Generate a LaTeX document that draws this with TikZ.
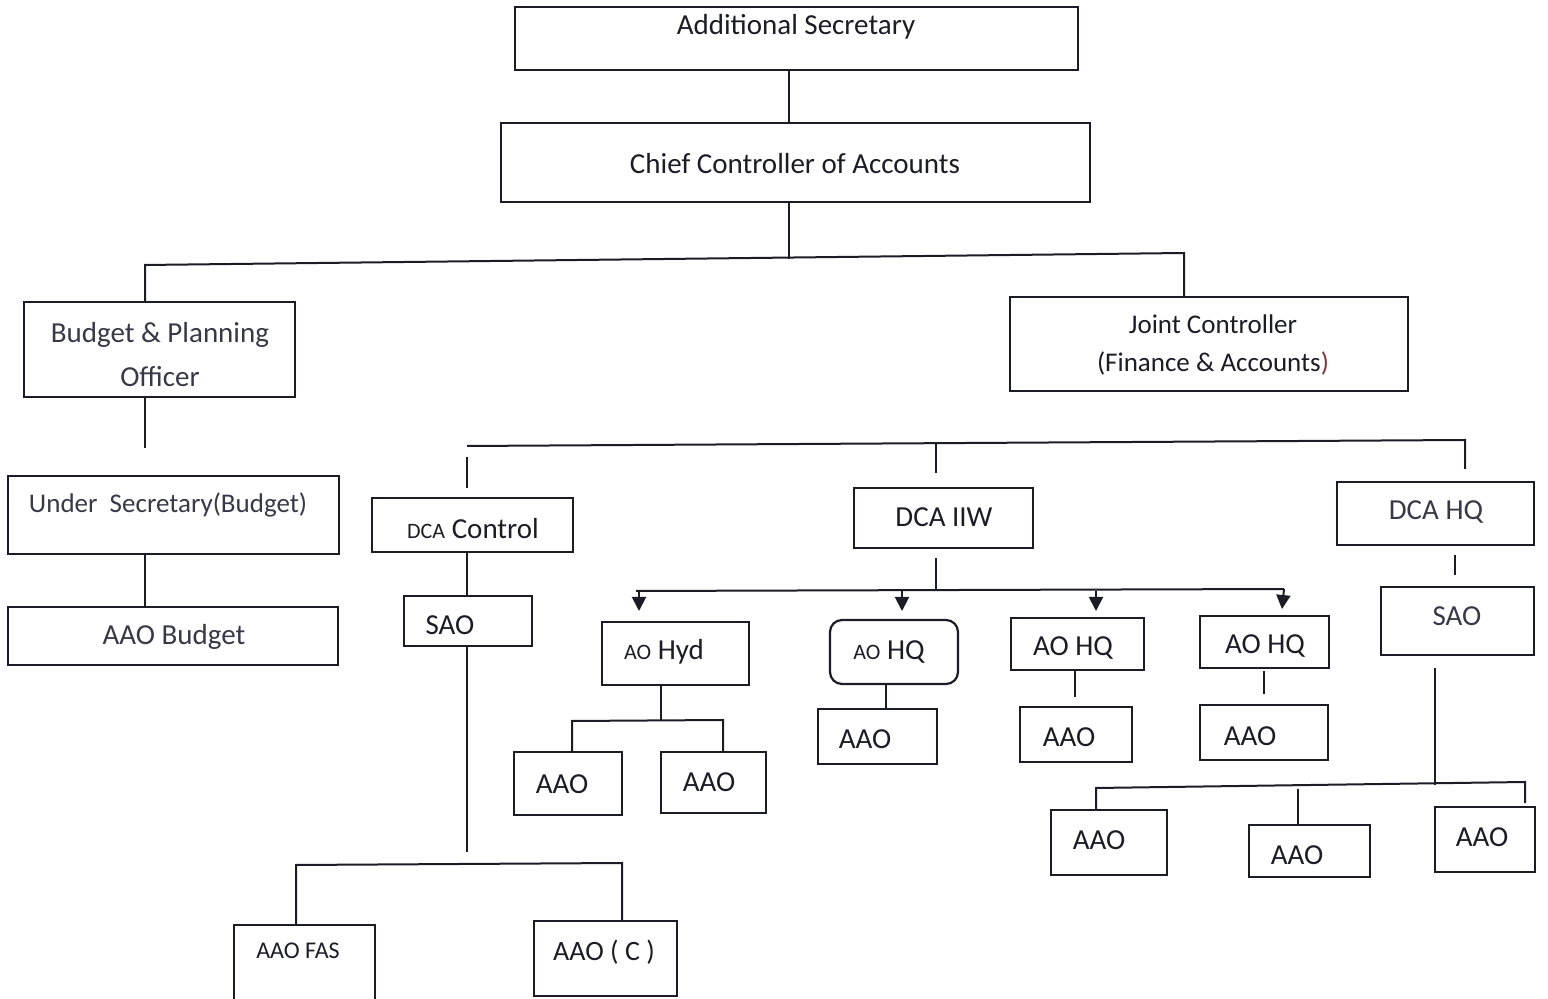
\documentclass[tikz,border=0pt]{standalone}
\usepackage{fontspec}
\setmainfont{Carlito}
\usetikzlibrary{fit,arrows.meta,calc}
\definecolor{ink}{HTML}{1C1C26}
\definecolor{grayink}{HTML}{383846}
\definecolor{redink}{HTML}{7A3A3A}
\begin{document}
\begin{tikzpicture}[x=0.5pt,y=-0.5pt,
  box/.style={draw=ink, line width=1.1pt, inner sep=0pt},
  rbox/.style={box, rounded corners=6pt},
  txt/.style={text=ink, inner sep=0pt, font=\fontsize{14.5}{17}\selectfont},
  gtxt/.style={txt, text=grayink},
  stxt/.style={txt, font=\fontsize{13.5}{16}\selectfont},
  ln/.style={draw=ink, line width=1pt},
  arr/.style={ln, -{Triangle[width=7pt,length=7pt]}}]
\useasboundingbox (0,0) rectangle (1548,999);
% ---- boxes ----
\node[box, fit={(515,7) (1078,70)}] (as) {};
\node[box, fit={(501,123) (1090,202)}] (cca) {};
\node[box, fit={(24,302) (295,397)}] (bpo) {};
\node[box, fit={(8,476) (339,554)}] (us) {};
\node[box, fit={(8,607) (338,665)}] (aaob) {};
\node[box, fit={(1010,297) (1408,391)}] (jc) {};
\node[box, fit={(372,498) (573,552)}] (dcac) {};
\node[box, fit={(404,596) (532,646)}] (sao1) {};
\node[box, fit={(234,925) (375,1010)}] (fas) {};
\node[box, fit={(534,921) (677,996)}] (aaoc) {};
\node[box, fit={(854,488) (1033,548)}] (iiw) {};
\node[box, fit={(602,622) (749,685)}] (hyd) {};
\node[box, fit={(514,752) (622,815)}] (a1) {};
\node[box, fit={(661,752) (766,813)}] (a2) {};
\node[rbox, fit={(830,620) (958,684)}] (hq1) {};
\node[box, fit={(818,709) (937,764)}] (a3) {};
\node[box, fit={(1011,618) (1144,670)}] (hq2) {};
\node[box, fit={(1020,707) (1132,762)}] (a4) {};
\node[box, fit={(1200,616) (1329,668)}] (hq3) {};
\node[box, fit={(1200,705) (1328,760)}] (a5) {};
\node[box, fit={(1337,482) (1534,545)}] (dhq) {};
\node[box, fit={(1381,587) (1534,655)}] (sao2) {};
\node[box, fit={(1051,810) (1167,875)}] (a6) {};
\node[box, fit={(1249,825) (1370,877)}] (a7) {};
\node[box, fit={(1435,807) (1535,872)}] (a8) {};
% ---- texts ----
\node[txt] (as-t) at (796,27) {Additional Secretary};
\node[txt] (cca-t) at (795,164) {Chief Controller of Accounts};
\node[gtxt, align=center, font=\fontsize{14.5}{22}\selectfont] (bpo-t) at (160,355) {Budget \& Planning\\Officer};
\node[stxt, text=grayink] (us-t) at (168,505) {Under\ \ Secretary(Budget)};
\node[gtxt] (aaob-t) at (174,637) {AAO Budget};
\node[stxt, align=center, font=\fontsize{13.5}{19}\selectfont] (jc-t) at (1213,345) {Joint Controller\\(Finance \& Accounts\textcolor{redink}{)}};
\node[txt] (dcac-t) at (473,529) {{\fontsize{11}{13}\selectfont DCA} Control};
\node[txt] (sao1-t) at (450,625) {SAO};
\node[txt, font=\fontsize{12}{14}\selectfont] (fas-t) at (298,951) {AAO FAS};
\node[txt, font=\fontsize{14}{16}\selectfont] (aaoc-t) at (604,952) {AAO ( C )};
\node[txt] (iiw-t) at (944,517) {DCA IIW};
\node[txt] (hyd-t) at (664,652) {{\fontsize{11}{13}\selectfont AO} Hyd};
\node[txt] (a1-t) at (562,784) {AAO};
\node[txt] (a2-t) at (709,782) {AAO};
\node[txt] (hq1-t) at (889,652) {{\fontsize{11}{13}\selectfont AO} HQ};
\node[txt] (a3-t) at (865,739) {AAO};
\node[txt] (hq2-t) at (1073,648) {AO HQ};
\node[txt] (a4-t) at (1069,737) {AAO};
\node[txt] (hq3-t) at (1265,646) {AO HQ};
\node[txt] (a5-t) at (1250,736) {AAO};
\node[gtxt] (dhq-t) at (1436,512) {DCA HQ};
\node[gtxt] (sao2-t) at (1457,616) {SAO};
\node[txt] (a6-t) at (1099,840) {AAO};
\node[txt] (a7-t) at (1297,855) {AAO};
\node[txt] (a8-t) at (1482,837) {AAO};
% ---- connector points ----
\coordinate (bM) at (789,259);
\coordinate (bL) at (145,265);
\coordinate (bR) at (1184,253);
\coordinate (d1) at (145,448);
\coordinate (cL) at (467,446);
\coordinate (cR) at (1465,440);
\coordinate (cM) at (936,444);
\coordinate (cLd1) at (467,457);
\coordinate (cLd2) at (467,488);
\coordinate (cMd) at (936,473);
\coordinate (cRd) at (1465,469);
\coordinate (s1) at (467,852);
\coordinate (fL) at (296,865);
\coordinate (fR) at (622,863);
\coordinate (iB) at (936,591);
\coordinate (iL) at (636,591);
\coordinate (iR) at (1284,589);
\coordinate (t1) at (639,611);
\coordinate (t2) at (902,611);
\coordinate (t3) at (1096,611);
\coordinate (t4) at (1282,609);
\coordinate (hB) at (661,720);
\coordinate (hL) at (572,721);
\coordinate (hR) at (723,720);
\coordinate (q1) at (886,709);
\coordinate (q2) at (1075,697);
\coordinate (q3) at (1264,694);
\coordinate (dq1) at (1455,555);
\coordinate (dq2) at (1455,575);
\coordinate (sB) at (1435,785);
\coordinate (sL) at (1096,788);
\coordinate (sM) at (1298,789);
\coordinate (sR) at (1525,782);
\coordinate (sRd) at (1525,803);
% ---- connectors ----
\draw[ln] (as.south -| bM) -- (cca.north -| bM);
\draw[ln] (cca.south -| bM) -- (bM);
\draw[ln] (bpo.north -| bL) -- (bL) -- (bR) -- (jc.north -| bR);
\draw[ln] (bpo.south -| d1) -- (d1);
\draw[ln] (us.south -| d1) -- (aaob.north -| d1);
\draw[ln] (cL) -- (cR) -- (cRd);
\draw[ln] (cLd1) -- (cLd2);
\draw[ln] (cM) -- (cMd);
\draw[ln] (dcac.south -| cL) -- (sao1.north -| cL);
\draw[ln] (sao1.south -| s1) -- (s1);
\draw[ln] (fas.north -| fL) -- (fL) -- (fR) -- (aaoc.north -| fR);
\draw[ln] (iiw.south -| iB) ++(0,9) -- (iB);
\draw[ln] (iL) -- (iR);
\draw[arr] (iL -| t1) -- (t1);
\draw[arr] (iL -| t2) -- (t2);
\draw[arr] (iL -| t3) -- (t3);
\draw[arr] (iR) -- (t4);
\draw[ln] (hyd.south -| hB) -- (hB);
\draw[ln] (a1.north -| hL) -- (hL) -- (hR) -- (a2.north -| hR);
\draw[ln] (hq1.south -| q1) -- (a3.north -| q1);
\draw[ln] (hq2.south -| q2) -- (q2);
\draw[ln] (hq3.south -| q3) ++(0,2) -- (q3);
\draw[ln] (dq1) -- (dq2);
\draw[ln] (sao2.south -| sB) ++(0,12) -- (sB);
\draw[ln] (a6.north -| sL) -- (sL) -- (sR) -- (sRd);
\draw[ln] (sM) -- (a7.north -| sM);
\end{tikzpicture}
\end{document}
